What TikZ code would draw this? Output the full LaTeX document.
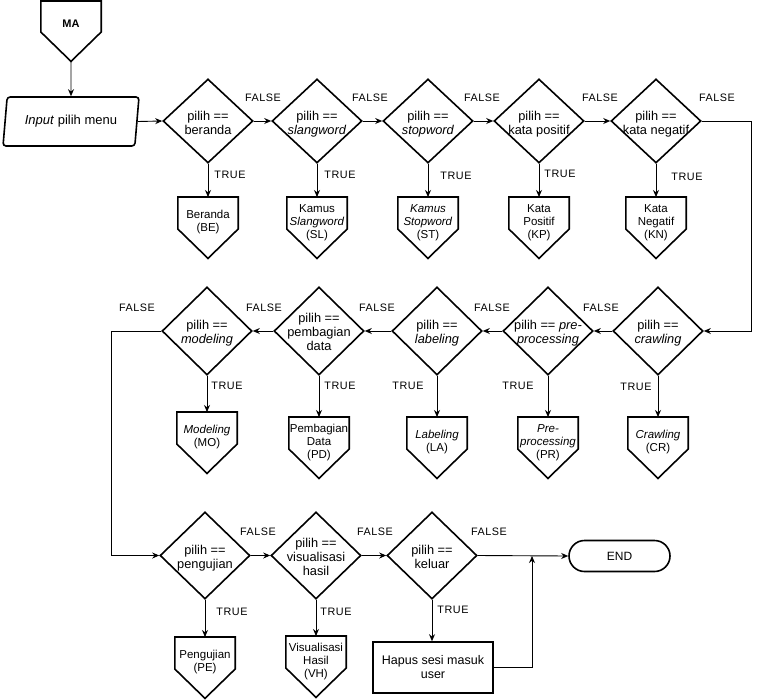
\documentclass[tikz,border=0pt]{standalone}
\usepackage{fontspec}
\setmainfont{Liberation Sans}
\newfontfamily\lblfont[LetterSpace=5]{Liberation Sans}
\usetikzlibrary{shapes.geometric,shapes.misc,arrows.meta,calc}
\newcommand\ztext[2]{\smash{\raisebox{#1}{\makebox[0pt]{\begin{tabular}{@{}c@{}}#2\end{tabular}}}}}
\newcommand\pentnode[4]{%
  \node[pent, anchor=north] (#1) at (#2,#3) {\ztext{2pt}{#4}};
  \draw[shp] (#1.north west) -- (#1.north east) -- ($(#1.north east)+(0,32)$) -- (#1.south) -- ($(#1.north west)+(0,32)$) -- cycle;}
\tikzset{
  shp/.style={draw, line width=1.6pt, line join=miter},
  dia/.style={shp, diamond, minimum width=90pt, minimum height=86pt, inner sep=0pt, font=\fontsize{12.8}{14}\selectfont},
  pent/.style={minimum width=60pt, minimum height=61pt, inner sep=0pt, font=\fontsize{11.5}{13}\selectfont},
  conn/.style={line width=0.9pt, -{Stealth[length=7pt,width=6pt]}},
  lbl/.style={font=\lblfont\fontsize{10.8}{12}\selectfont, inner sep=0pt},
}
\begin{document}
\begin{tikzpicture}[x=1pt,y=-1pt]
\useasboundingbox (0,0) rectangle (760,699);

% start connector MA
\node[minimum width=60pt, minimum height=60pt, inner sep=0pt, anchor=north, font=\bfseries\fontsize{11}{13}\selectfont] (ma) at (71,1) {\ztext{4pt}{MA}};
\draw[shp] (ma.north west) -- (ma.north east) -- ($(ma.north east)+(0,31)$) -- (ma.south) -- ($(ma.north west)+(0,31)$) -- cycle;

% input
\node[shp, trapezium, trapezium left angle=76, trapezium right angle=104, trapezium stretches=true,
      minimum width=137pt, minimum height=49pt, rounded corners=3pt, inner sep=0pt,
      font=\fontsize{13}{15}\selectfont] (inp) at (71,121.5) {\textit{Input} pilih menu};

% row 1 decisions
\node[dia, minimum height=84pt] (d1) at (208,121) {\ztext{-6.5pt}{pilih ==\\beranda}};
\node[dia, minimum height=84pt] (d2) at (317,121) {\ztext{-6.5pt}{pilih ==\\\textit{slangword}}};
\node[dia, minimum height=84pt] (d3) at (428,121) {\ztext{-6.5pt}{pilih ==\\\textit{stopword}}};
\node[dia, minimum height=84pt] (d4) at (539,121) {\ztext{-6.5pt}{pilih ==\\kata positif}};
\node[dia, minimum height=84pt] (d5) at (656,121) {\ztext{-6.5pt}{pilih ==\\kata negatif}};

% row 1 outputs
\pentnode{be}{208}{197}{Beranda\\(BE)}
\pentnode{sl}{317}{197}{Kamus\\\textit{Slangword}\\(SL)}
\pentnode{st}{428}{197}{\textit{Kamus}\\\textit{Stopword}\\(ST)}
\pentnode{kp}{539}{197}{Kata\\Positif\\(KP)}
\pentnode{kn}{656}{197}{Kata\\Negatif\\(KN)}

% row 2 decisions
\node[dia, minimum height=88pt] (crw) at (658,331) {\ztext{-6pt}{pilih ==\\\textit{crawling}}};
\node[dia, minimum height=88pt] (pre) at (548,331) {\ztext{-6pt}{pilih == \textit{pre-}\\\textit{processing}}};
\node[dia, minimum height=88pt] (lab) at (437,331) {\ztext{-6pt}{pilih ==\\\textit{labeling}}};
\node[dia, minimum height=88pt] (pem) at (319,331) {\ztext{-6pt}{pilih ==\\pembagian\\data}};
\node[dia, minimum height=88pt] (mod) at (207,331) {\ztext{-6pt}{pilih ==\\\textit{modeling}}};

% row 2 outputs
\pentnode{cr}{658}{417}{\textit{Crawling}\\(CR)}
\pentnode{pr}{548}{417}{\textit{Pre-}\\\textit{processing}\\(PR)}
\pentnode{la}{437}{417}{\textit{Labeling}\\(LA)}
\pentnode{pd}{319}{417}{Pembagian\\Data\\(PD)}
\pentnode{mo}{207}{412}{\textit{Modeling}\\(MO)}

% row 3 decisions
\node[dia, minimum height=87pt] (pen) at (205,555.5) {\ztext{-6pt}{pilih ==\\pengujian}};
\node[dia, minimum height=87pt] (vis) at (316,555.5) {\ztext{-6pt}{pilih ==\\visualisasi\\hasil}};
\node[dia, minimum height=87pt] (kel) at (432,555.5) {\ztext{-6pt}{pilih ==\\keluar}};

% row 3 outputs
\pentnode{pe}{205}{637}{Pengujian\\(PE)}
\pentnode{vh}{316}{636}{Visualisasi\\Hasil\\(VH)}
\node[shp, minimum width=120pt, minimum height=51pt, align=center, inner sep=0pt,
      font=\fontsize{12.5}{14}\selectfont] (hap) at (433,667.5) {Hapus sesi masuk\\user};
\node[shp, rounded rectangle, minimum width=101pt, minimum height=31pt, inner sep=0pt,
      font=\fontsize{12}{14}\selectfont] (end) at (619.5,556) {END};
\coordinate (jn) at (532,556);

% connectors
\draw[conn] (ma.south) -- (inp.north);
\draw[conn] (inp.east) -- (d1.west);
\draw[conn] (d1.east) -- (d2.west);
\draw[conn] (d2.east) -- (d3.west);
\draw[conn] (d3.east) -- (d4.west);
\draw[conn] (d4.east) -- (d5.west);
\draw[conn] (d5.east) -- ++(50,0) |- (crw.east);
\draw[conn] (d1.south) -- (be.north);
\draw[conn] (d2.south) -- (sl.north);
\draw[conn] (d3.south) -- (st.north);
\draw[conn] (d4.south) -- (kp.north);
\draw[conn] (d5.south) -- (kn.north);

\draw[conn] (crw.west) -- (pre.east);
\draw[conn] (pre.west) -- (lab.east);
\draw[conn] (lab.west) -- (pem.east);
\draw[conn] (pem.west) -- (mod.east);
\draw[conn] (mod.west) -- ++(-50,0) |- (pen.west);
\draw[conn] (crw.south) -- (cr.north);
\draw[conn] (pre.south) -- (pr.north);
\draw[conn] (lab.south) -- (la.north);
\draw[conn] (pem.south) -- (pd.north);
\draw[conn] (mod.south) -- (mo.north);

\draw[conn] (pen.east) -- (vis.west);
\draw[conn] (vis.east) -- (kel.west);
\draw[conn] (kel.east) -- (end.west);
\draw[conn] (pen.south) -- (pe.north);
\draw[conn] (vis.south) -- (vh.north);
\draw[conn] (kel.south) -- (kel.south |- hap.north);
\draw[conn] (hap.east) -| (jn);

% labels
\node[lbl] (f1) at (263,98) {FALSE};
\node[lbl] (f2) at (370,98) {FALSE};
\node[lbl] (f3) at (482,98) {FALSE};
\node[lbl] (f4) at (600,98) {FALSE};
\node[lbl] (f5) at (717,98) {FALSE};
\node[lbl] (t1) at (230,175) {TRUE};
\node[lbl] (t2) at (340,175) {TRUE};
\node[lbl] (t3) at (456,176) {TRUE};
\node[lbl] (t4) at (560,174) {TRUE};
\node[lbl] (t5) at (687,177) {TRUE};

\node[lbl] (f6) at (137,308) {FALSE};
\node[lbl] (f7) at (264,308) {FALSE};
\node[lbl] (f8) at (377,308) {FALSE};
\node[lbl] (f9) at (492,308) {FALSE};
\node[lbl] (f10) at (601,308) {FALSE};
\node[lbl] (t6) at (227,386) {TRUE};
\node[lbl] (t7) at (340,386) {TRUE};
\node[lbl] (t8) at (408,386) {TRUE};
\node[lbl] (t9) at (518,386) {TRUE};
\node[lbl] (t10) at (636,387) {TRUE};

\node[lbl] (f11) at (258,532) {FALSE};
\node[lbl] (f12) at (375,532) {FALSE};
\node[lbl] (f13) at (489,532) {FALSE};
\node[lbl] (t11) at (232,612) {TRUE};
\node[lbl] (t12) at (336,612) {TRUE};
\node[lbl] (t13) at (453,610) {TRUE};
\end{tikzpicture}
\end{document}
